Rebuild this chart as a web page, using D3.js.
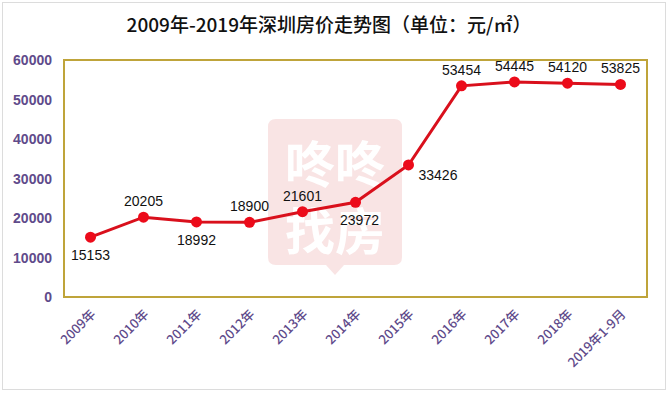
<!DOCTYPE html>
<html>
<head>
<meta charset="utf-8">
<script src="https://cdn.jsdelivr.net/npm/d3@7"></script>
<style>
  body { margin: 0; background: #fff; }
  text { font-family: "Liberation Sans", Arial, sans-serif; }
  .cjk { font-family: "Noto Sans CJK SC", sans-serif; }
</style>
</head>
<body>
<script>
const years = ['2009年', '2010年', '2011年', '2012年', '2013年', '2014年', '2015年', '2016年', '2017年', '2018年', '2019年1-9月'];
const prices = [15153, 20205, 18992, 18900, 21601, 23972, 33426, 53454, 54445, 54120, 53825];
const yTicks = [0, 10000, 20000, 30000, 40000, 50000, 60000];
// where each value label sits relative to its point
const labelPos = ['below', 'above', 'below', 'above', 'above', 'below', 'right', 'above', 'above', 'above', 'above'];

const width = 671, height = 394;
const margin = {top: 60, right: 24, bottom: 96, left: 64};

const svg = d3.select('body').append('svg')
  .attr('width', width).attr('height', height);

// outer card border
svg.append('rect')
  .attr('x', 2.5).attr('y', 2.5).attr('width', 663).attr('height', 387)
  .attr('fill', '#fff').attr('stroke', '#dcdcdc').attr('stroke-width', 1);

svg.append('text')
  .attr('class', 'cjk')
  .attr('x', 329).attr('y', 32)
  .attr('text-anchor', 'middle')
  .attr('font-size', 19)
  .attr('font-weight', 500)
  .attr('fill', '#111')
  .text('2009年-2019年深圳房价走势图（单位：元/㎡）');

const x = d3.scaleBand().domain(years)
  .range([margin.left, width - margin.right]);
const y = d3.scaleLinear().domain([0, 60000])
  .range([height - margin.bottom - 1, margin.top]);

// faint watermark
const wm = svg.append('g');
wm.append('path')
  .attr('d', 'M276,119 H394 Q402,119 402,127 V257 Q402,265 394,265 H344 L335,275 L326,265 H276 Q268,265 268,257 V127 Q268,119 276,119 Z')
  .attr('fill', '#f9e4e4');
wm.append('text').attr('class', 'cjk')
  .attr('x', 335).attr('y', 183).attr('text-anchor', 'middle')
  .attr('font-size', 50).attr('font-weight', 'bold').attr('fill', '#fff')
  .text('咚咚');
wm.append('text').attr('class', 'cjk')
  .attr('x', 335).attr('y', 250).attr('text-anchor', 'middle')
  .attr('font-size', 50).attr('font-weight', 'bold').attr('fill', '#fff')
  .text('找房');

// plot frame
svg.append('rect')
  .attr('x', margin.left).attr('y', margin.top)
  .attr('width', width - margin.left - margin.right)
  .attr('height', y(0) - margin.top)
  .attr('fill', 'none').attr('stroke', '#bfa43a').attr('stroke-width', 2);

// y axis
const yAxis = svg.append('g')
  .attr('transform', `translate(${margin.left},0)`)
  .call(d3.axisLeft(y).tickValues(yTicks).tickSize(0).tickPadding(12).tickFormat(d3.format('d')));
yAxis.select('.domain').remove();
yAxis.selectAll('text')
  .attr('font-size', 14).attr('font-weight', 'bold').attr('fill', '#5f4b8b')
  .attr('dy', '0.35em');

// x axis
const xAxis = svg.append('g')
  .attr('transform', `translate(0,${y(0)})`)
  .call(d3.axisBottom(x).tickSize(0).tickPadding(0));
xAxis.select('.domain').remove();
xAxis.selectAll('text')
  .attr('class', 'cjk')
  .attr('font-size', 13).attr('font-weight', 500).attr('fill', '#5f4b8b')
  .attr('text-anchor', 'end')
  .attr('dy', 0)
  .attr('transform', 'translate(6,18) rotate(-45)');

const cx = (d, i) => x(years[i]) + x.bandwidth() / 2;

svg.append('path')
  .datum(prices)
  .attr('fill', 'none')
  .attr('stroke', '#d9101c')
  .attr('stroke-width', 3)
  .attr('d', d3.line().x(cx).y(d => y(d)));

svg.selectAll('circle.pt')
  .data(prices)
  .join('circle')
  .attr('class', 'pt')
  .attr('cx', cx).attr('cy', d => y(d))
  .attr('r', 5.5).attr('fill', '#ec0b1a');

svg.selectAll('text.val')
  .data(prices)
  .join('text')
  .attr('class', 'val')
  .attr('font-size', 14).attr('fill', '#111')
  .attr('text-anchor', (d, i) => labelPos[i] === 'right' ? 'start' : 'middle')
  .attr('x', (d, i) => labelPos[i] === 'right' ? cx(d, i) + 10 : cx(d, i) + (i === 5 ? 4 : 0))
  .attr('y', (d, i) => {
    if (labelPos[i] === 'above') return y(d) - 11;
    if (labelPos[i] === 'below') return y(d) + 23;
    return y(d) + 15;
  })
  .text(d => d);
</script>
</body>
</html>
